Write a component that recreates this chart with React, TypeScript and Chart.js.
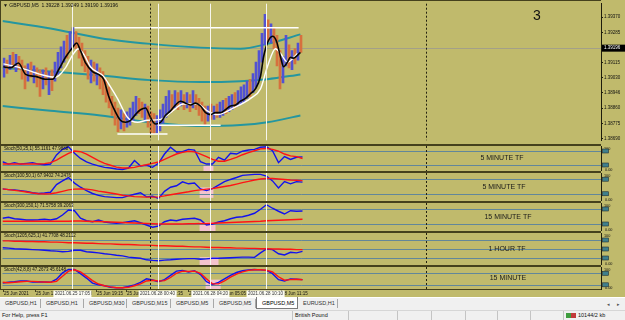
import React, { useEffect, useRef } from 'react';
import { Chart, registerables } from 'chart.js';

Chart.register(...registerables);

// ---------------- DATA ----------------
const symbolTitle = '\u25BC GBPUSD,M5  1.39228 1.39249 1.39190 1.39196';
const chartNumber = '3';
const currentPrice = 1.39196;
const priceTicks = [1.3937, 1.39285, 1.39115, 1.3903, 1.38946, 1.3886, 1.38775, 1.3869];

const candleHigh = [
  1.3914, 1.39129, 1.39156, 1.39172, 1.39161, 1.3915, 1.39129, 1.39097, 1.39108, 1.39118,
  1.39097, 1.39086, 1.39075, 1.39075, 1.39086, 1.39065, 1.39075, 1.39118, 1.39172, 1.39204,
  1.39236, 1.39268, 1.39289, 1.39311, 1.39289, 1.39257, 1.39225, 1.39182, 1.3915, 1.39129,
  1.39118, 1.39108, 1.39086, 1.39065, 1.39022, 1.38979, 1.38926, 1.38894, 1.38861, 1.38851,
  1.38829, 1.3884, 1.38861, 1.38894, 1.38926, 1.38915, 1.38894, 1.38883, 1.38872, 1.3884,
  1.38829, 1.38819, 1.38851, 1.38883, 1.38926, 1.38958, 1.38936, 1.38958, 1.38947, 1.38958,
  1.38936, 1.38947, 1.38936, 1.38958, 1.38936, 1.38915, 1.38894, 1.38872, 1.38872, 1.38883,
  1.38872, 1.38883, 1.38894, 1.38904, 1.38915, 1.38926, 1.38936, 1.38947, 1.38958, 1.38979,
  1.3899, 1.39011, 1.39022, 1.39054, 1.39118, 1.39182, 1.39279, 1.39386, 1.39354, 1.39332,
  1.39311, 1.39268, 1.39182, 1.3915, 1.39268, 1.39215, 1.39182, 1.39193, 1.39225, 1.39268,
];
const candleLow = [
  1.39033, 1.39054, 1.39075, 1.39086, 1.39065, 1.39075, 1.39022, 1.38968, 1.39011, 1.39033,
  1.39001, 1.38979, 1.38926, 1.38968, 1.3899, 1.38936, 1.38958, 1.39011, 1.39049, 1.39086,
  1.39118, 1.3914, 1.39182, 1.39204, 1.39193, 1.3914, 1.39097, 1.39065, 1.39022, 1.39001,
  1.39011, 1.3899, 1.38968, 1.38936, 1.38894, 1.38861, 1.38819, 1.38765, 1.38728, 1.38744,
  1.38733, 1.38754, 1.38765, 1.38787, 1.38819, 1.38829, 1.38808, 1.38787, 1.38754, 1.38722,
  1.38717, 1.38722, 1.38733, 1.38776, 1.38808, 1.38829, 1.3884, 1.38861, 1.38851, 1.38872,
  1.38851, 1.38861, 1.3884, 1.38861, 1.38851, 1.38819, 1.38787, 1.38765, 1.38787, 1.38797,
  1.38797, 1.38808, 1.38808, 1.38819, 1.38829, 1.3884, 1.38851, 1.38861, 1.38872, 1.38883,
  1.38894, 1.38915, 1.38926, 1.38947, 1.38979, 1.39022, 1.39118, 1.39215, 1.39236, 1.39225,
  1.39193, 1.39097, 1.38968, 1.39001, 1.39097, 1.39086, 1.39075, 1.39108, 1.39129, 1.39172,
];
const candleDir = (
  'UDUDUDDDUD' + 'UDDUDUDUUU' + 'UDUUDDDDDU' + 'DUDDDDDDDU' + 'DUUUUDDUDD' +
  'DUUUUUDUDU' + 'DUDUDDDDUD' + 'UDUUDUUDUU' + 'UUDUUUUUDU' + 'DDDUUDUDUD'
).split('');

const maFastX = [0.3, 2.7, 5.3, 7.7, 11, 14.3, 16.7, 18.7, 21, 23.3, 24.7, 26, 27.7, 30, 32, 33.7, 35.3, 37, 39.3, 41,
  42.7, 44.3, 46, 47.7, 49.3, 51, 52.7, 54.3, 56, 57.7, 59.3, 61, 62.7, 64.3, 66, 67.7, 69.3, 71, 72.7, 74.3,
  76, 77.7, 79.3, 81, 82.7, 84.3, 86, 87, 88.3, 90, 91.3, 92.7, 93.7, 95, 96, 97, 98.3, 99.3];
const maFastY = [1.39092, 1.39086, 1.39113, 1.39049, 1.39038, 1.39022, 1.39022, 1.39075, 1.39145, 1.39199,
  1.39225, 1.39182, 1.39113, 1.39065, 1.39049, 1.39022, 1.38931, 1.38861, 1.38792, 1.38781,
  1.38792, 1.38824, 1.38851, 1.38861, 1.38808, 1.38771, 1.38781, 1.38819, 1.38845, 1.38878,
  1.38899, 1.38888, 1.38878, 1.38888, 1.38872, 1.38835, 1.38824, 1.38835, 1.38835, 1.38851,
  1.38872, 1.38878, 1.38899, 1.38915, 1.38942, 1.38968, 1.39038, 1.39145, 1.39225, 1.39263,
  1.39236, 1.39145, 1.39092, 1.39118, 1.39145, 1.3914, 1.39156, 1.39172];

const maSlowX = [0.3, 6, 12.7, 17.7, 21, 23.3, 25.3, 27.3, 29.3, 33.7, 36, 38.3, 41.7, 45, 48.3, 52.7, 56, 60.3, 65, 68.3,
  71.7, 77, 82.7, 86, 88.3, 91, 92.7, 95, 98.3];
const maSlowY = [1.39108, 1.39086, 1.39049, 1.39033, 1.39086, 1.39156, 1.39193, 1.39156, 1.39092, 1.39038,
  1.38979, 1.38915, 1.38808, 1.38781, 1.38792, 1.38797, 1.38835, 1.38883, 1.38883, 1.38845,
  1.38824, 1.38861, 1.38915, 1.38968, 1.39092, 1.39193, 1.39166, 1.39118, 1.39166];

const bandX = [0, 16, 32.7, 49.3, 66, 79.3, 88.3, 99.3];
const bandUpper = [1.39348, 1.39306, 1.39252, 1.3922, 1.39199, 1.39193, 1.3922, 1.39273];
const bandMiddle = [1.39086, 1.39065, 1.39043, 1.39017, 1.39006, 1.39011, 1.39022, 1.39049];
const bandLower = [1.38872, 1.38845, 1.38819, 1.38781, 1.3876, 1.38765, 1.38781, 1.38819];

const trendStart = [24, 51.7, 38.3];
const trendEnd = [98.7, 72.7, 55];
const trendPrice = [1.39311, 1.38764, 1.38715];

const vLineWhite = [23.3, 51.7, 69.3, 87.7];
const vLineWhiteText = ['2021.06.25 17:05', '2021.06.28 00:40', '2021.06.28 04:20', '2021.06.28 10:10'];
const vLineDotted = [49, 141];

const timeLabelX = [0.33, 10.67, 20.67, 31, 41, 51.33, 61.67, 72, 82.33, 92.67];
const timeLabelText = ['25 Jun 2021', '25 Jun 13:25', '25 Jun 16:20', '25 Jun 19:15', '25 Jun 22:10',
  '28 Jun 01:35', '28 Jun 03:20', '28 Jun 05:05', '28 Jun 08:10', '28 Jun 11:15'];

const stochX = [0, 2, 4, 6, 8, 10, 12, 14, 16, 18, 20, 22, 24, 26, 28, 30, 32, 34, 36, 38, 40, 42, 44, 46, 48, 50,
  52, 54, 56, 58, 60, 62, 64, 66, 68, 70, 72, 74, 76, 78, 80, 82, 84, 86, 88, 90, 92, 94, 96, 98, 100];

const stoch1Main = [34, 24, 30, 24, 27, 30, 24, 21, 24, 63, 87, 98, 70, 48, 33, 24, 16, 10, 7, 3, 1, 7, 39, 16, 19, 10,
  27, 67, 96, 76, 77, 87, 84, 34, 24, 24, 53, 41, 70, 67, 79, 84, 87, 96, 98, 81, 30, 56, 44, 53, 55];
const stoch1Signal = [24, 24, 24, 24, 24, 24, 24, 26, 30, 41, 56, 70, 80, 77, 67, 53, 39, 27, 19, 11, 7, 7, 10, 16, 21, 27,
  33, 44, 56, 67, 74, 79, 76, 67, 56, 44, 36, 36, 44, 53, 64, 73, 81, 89, 91, 87, 79, 67, 59, 56, 48];
const stoch2Main = [40, 37, 36, 33, 29, 24, 21, 23, 26, 58, 73, 87, 64, 47, 33, 21, 13, 8, 6, 4, 4, 11, 18, 24, 7, 10,
  1, 30, 47, 53, 69, 61, 64, 40, 33, 41, 56, 70, 79, 87, 96, 98, 100, 100, 93, 73, 44, 70, 61, 70, 68];
const stoch2Signal = [40, 37, 34, 31, 27, 23, 20, 19, 20, 24, 30, 36, 39, 40, 39, 36, 31, 27, 23, 19, 14, 11, 8, 7, 6, 6,
  7, 11, 16, 20, 24, 28, 33, 36, 39, 41, 46, 50, 54, 60, 66, 71, 77, 81, 83, 83, 81, 79, 77, 76, 74];
const stoch3Main = [43, 47, 41, 39, 36, 36, 37, 39, 36, 41, 56, 76, 73, 43, 33, 29, 36, 28, 25, 23, 25, 29, 33, 25, 16, 7,
  12, 29, 36, 33, 39, 41, 43, 36, 16, 20, 28, 33, 41, 47, 49, 55, 63, 79, 97, 83, 71, 60, 73, 71, 72];
const stoch3Signal = [31, 31, 31, 31, 31, 31, 31, 31, 31, 31, 31, 31, 32, 32, 31, 30, 30, 29, 28, 27, 26, 25, 24, 23, 22, 21,
  20, 20, 20, 20, 20, 21, 21, 22, 22, 23, 24, 25, 26, 27, 28, 29, 30, 31, 33, 34, 35, 36, 37, 38, 39];
const stoch4Main = [54, 53, 51, 50, 49, 48, 47, 46, 44, 43, 41, 42, 46, 46, 41, 39, 37, 34, 32, 29, 27, 23, 21, 19, 14, 12,
  11, 13, 14, 16, 17, 18, 18, 16, 17, 19, 19, 20, 21, 22, 23, 23, 22, 37, 50, 48, 34, 30, 39, 37, 42];
const stoch4Signal = [77, 77, 76, 76, 75, 75, 74, 74, 73, 73, 72, 71, 71, 70, 69, 69, 68, 67, 67, 66, 65, 65, 64, 63, 63, 62,
  61, 61, 60, 59, 59, 58, 57, 57, 56, 55, 55, 54, 54, 53, 53, 52, 52, 51, 51, 50, 50, 49, 49, 48, 48];
const stoch5Main = [29, 33, 36, 40, 40, 35, 36, 35, 33, 49, 82, 100, 100, 78, 55, 29, 20, 15, 7, 5, 5, 11, 20, 33, 51, 45,
  36, 47, 69, 91, 95, 87, 93, 73, 36, 22, 33, 51, 69, 84, 93, 98, 100, 98, 95, 78, 47, 40, 51, 49, 47];
const stoch5Signal = [33, 31, 33, 36, 38, 38, 36, 35, 33, 38, 65, 91, 98, 87, 65, 42, 24, 15, 9, 5, 5, 7, 15, 25, 40, 44,
  40, 42, 58, 80, 91, 89, 91, 80, 51, 25, 25, 40, 60, 76, 87, 95, 98, 98, 96, 87, 62, 44, 47, 49, 46];

const stochTitles = [
  'Stoch(50,25,1) 55.1161 47.9888',
  'Stoch(100,50,1) 67.9402 74.2476',
  'Stoch(300,150,1) 71.5758 39.2063',
  'Stoch(1205,625,1) 41.7708 48.2112',
  'Stoch(42,8,8) 47.2673 45.6148',
];
const stochNames = ['5 MINUTE TF', '5 MINUTE TF', '15 MINUTE TF', '1 HOUR TF', '15 MINUTE'];
const stochLevels = [[80, 20], [80, 20], [80, 20], [80, 50, 20], [80, 20]];
const pinkStart = [67, 65.7, 65.7, 65.7, 67.7];
const pinkEnd = [70.3, 70.3, 71, 72, 72.7];
const pinkLow = [-6, 3, -8, -3.3, -2];
const pinkHigh = [16, 46, 28, 23, 47];

const tabNames = ['GBPUSD,H1', 'GBPUSD,H1', 'GBPUSD,M30', 'GBPUSD,M15', 'GBPUSD,M5', 'GBPUSD,M5', 'GBPUSD,M5', 'EURUSD,H1'];
const activeTab = 6;
const statusHelp = 'For Help, press F1';
const statusSymbol = 'British Pound';
const statusTraffic = '10144/2 kb';

// ---------------- STYLE / LAYOUT ----------------
const FONT = '"Liberation Sans", "DejaVu Sans", Arial, sans-serif';
const OLIVE = '#c0ba6c';
const DARK = '#45411d';
const LEVEL = '#62879a';
const X_MAX = 199.5;
const AXIS_W = 24;

const stochMainSeries = [stoch1Main, stoch2Main, stoch3Main, stoch4Main, stoch5Main];
const stochSignalSeries = [stoch1Signal, stoch2Signal, stoch3Signal, stoch4Signal, stoch5Signal];

const PANELS = [
  { top: 144, height: 27, padBottom: 0, min: -5.7, max: 101.4, labelX: 502 },
  { top: 171, height: 30, padBottom: 0, min: -10, max: 105.7, labelX: 504 },
  { top: 201, height: 30, padBottom: 0, min: -8, max: 104, labelX: 508 },
  { top: 231, height: 34, padBottom: 0, min: -3.3, max: 103.3, labelX: 507 },
  { top: 265, height: 32, padBottom: 8, min: -1.8, max: 112.7, labelX: 508 },
];

const TAB_LEFT = [0, 41, 84, 127, 171, 214, 256, 298];
const TAB_W = [41, 43, 43, 44, 43, 42, 42, 40];
const STATUS_SEPS = [292, 348, 397, 431, 465, 497, 530, 563];

function drawVerticalLines(chart: any) {
  const { ctx, chartArea: a, scales } = chart;
  const xs = scales.x;
  ctx.save();
  ctx.lineWidth = 1;
  ctx.strokeStyle = '#f6f6ee';
  for (const v of vLineWhite) {
    const px = Math.round(xs.getPixelForValue(v)) + 0.5;
    ctx.beginPath(); ctx.moveTo(px, a.top); ctx.lineTo(px, a.bottom); ctx.stroke();
  }
  ctx.strokeStyle = '#23210f';
  ctx.setLineDash([2, 2]);
  for (const v of vLineDotted) {
    const px = Math.round(xs.getPixelForValue(v)) + 0.5;
    ctx.beginPath(); ctx.moveTo(px, a.top); ctx.lineTo(px, a.bottom); ctx.stroke();
  }
  ctx.restore();
}

function xScale() {
  return { type: 'linear', min: 0, max: X_MAX, display: false, offset: false };
}

function rightAxis(min: number, max: number, withTicks: boolean) {
  return {
    position: 'right',
    min,
    max,
    afterFit: (s: any) => { s.width = AXIS_W; },
    border: { display: true, color: '#1e1c0c', width: 1 },
    grid: { display: true, drawOnChartArea: false, drawTicks: withTicks, tickLength: 2, color: '#1e1c0c' },
    ticks: withTicks
      ? { display: true, autoSkip: false, padding: 1, color: '#111', font: { size: 4.5, family: FONT }, callback: (v: any) => Number(v).toFixed(5) }
      : { display: false },
    afterBuildTicks: withTicks ? (s: any) => { s.ticks = priceTicks.map((v) => ({ value: v })); } : undefined,
  };
}

const mainDeco = {
  id: 'mainDeco',
  beforeDatasetsDraw(chart: any) {
    const { ctx, chartArea: a, scales } = chart;
    const py = Math.round(scales.y.getPixelForValue(currentPrice)) + 0.5;
    ctx.save();
    ctx.strokeStyle = '#a3a088';
    ctx.lineWidth = 1;
    ctx.beginPath(); ctx.moveTo(a.left, py); ctx.lineTo(a.right, py); ctx.stroke();
    ctx.restore();
  },
  afterDatasetsDraw(chart: any) { drawVerticalLines(chart); },
  afterDraw(chart: any) {
    const { ctx, chartArea: a, scales } = chart;
    ctx.save();
    ctx.fillStyle = DARK;
    ctx.fillRect(0, 0, a.right, 1);
    ctx.fillRect(0, 0, 1, chart.height);
    ctx.fillStyle = '#111';
    ctx.font = `5px ${FONT}`;
    ctx.textBaseline = 'middle';
    ctx.textAlign = 'left';
    ctx.fillText(symbolTitle, 3, 5.5);
    ctx.font = `14px ${FONT}`;
    ctx.textAlign = 'center';
    ctx.fillText(chartNumber, 537, 16);
    const py = scales.y.getPixelForValue(currentPrice);
    ctx.fillStyle = '#000';
    ctx.fillRect(a.right + 1, py - 3.5, AXIS_W - 1, 7);
    ctx.fillStyle = '#fff';
    ctx.font = `4.5px ${FONT}`;
    ctx.textAlign = 'left';
    ctx.fillText(currentPrice.toFixed(5), a.right + 3, py);
    ctx.restore();
  },
};

function mainConfig() {
  const line = (xs: number[], ys: number[], color: string, width: number, order: number, tension: number) => ({
    type: 'line',
    data: xs.map((x, i) => ({ x, y: ys[i] })),
    borderColor: color,
    borderWidth: width,
    pointRadius: 0,
    tension,
    cubicInterpolationMode: tension > 0 ? 'monotone' : 'default',
    fill: false,
    order,
  });
  const trends = trendPrice.map((p, i) => ({
    type: 'line',
    data: [{ x: trendStart[i], y: p }, { x: trendEnd[i], y: p }],
    borderColor: '#ffffff',
    borderWidth: 1.5,
    pointRadius: 0,
    order: 0,
  }));
  return {
    type: 'bar',
    data: {
      datasets: [
        ...trends,
        line(maFastX, maFastY, '#050505', 1.6, 1, 0.3),
        line(maSlowX, maSlowY, '#ffffff', 1.4, 2, 0.3),
        {
          type: 'bar',
          data: candleHigh.map((h, i) => ({ x: i + 0.5, y: [candleLow[i], h] })),
          backgroundColor: candleDir.map((d) => (d === 'U' ? '#5252d2' : '#d6703e')),
          borderWidth: 0,
          barThickness: 2,
          grouped: false,
          order: 3,
        },
        line(bandX, bandUpper, '#2496a0', 2, 4, 0.4),
        line(bandX, bandMiddle, '#2496a0', 2, 4, 0.4),
        line(bandX, bandLower, '#2496a0', 2, 4, 0.4),
      ],
    },
    options: {
      responsive: false,
      animation: false,
      devicePixelRatio: 1,
      events: [],
      layout: { padding: { left: 2.5, top: 1, bottom: 0, right: 0 } },
      plugins: { legend: { display: false }, tooltip: { enabled: false } },
      scales: {
        x: xScale(),
        y: rightAxis(1.3868, 1.39445, true),
      },
    },
    plugins: [mainDeco],
  };
}

function stochDeco(idx: number) {
  const isLast = idx === PANELS.length - 1;
  return {
    id: 'stochDeco',
    beforeDatasetsDraw(chart: any) {
      const { ctx, chartArea: a, scales } = chart;
      const x = scales.x, y = scales.y;
      ctx.save();
      const x0 = x.getPixelForValue(pinkStart[idx]);
      const x1 = x.getPixelForValue(pinkEnd[idx]);
      const y0 = Math.max(a.top, y.getPixelForValue(pinkHigh[idx]));
      const y1 = Math.min(a.bottom, y.getPixelForValue(pinkLow[idx]));
      ctx.fillStyle = '#f3c3cd';
      ctx.fillRect(x0, y0, x1 - x0, y1 - y0);
      ctx.strokeStyle = LEVEL;
      ctx.lineWidth = 1;
      for (const lv of stochLevels[idx]) {
        const py = Math.round(y.getPixelForValue(lv)) + 0.5;
        ctx.beginPath(); ctx.moveTo(a.left, py); ctx.lineTo(a.right, py); ctx.stroke();
      }
      ctx.restore();
    },
    afterDatasetsDraw(chart: any) { drawVerticalLines(chart); },
    afterDraw(chart: any) {
      const { ctx, chartArea: a, scales } = chart;
      const x = scales.x, y = scales.y;
      ctx.save();
      ctx.fillStyle = DARK;
      ctx.fillRect(0, 0, a.right, 2);
      ctx.fillRect(0, 0, 1, a.bottom);
      // title
      ctx.fillStyle = '#111';
      ctx.font = `4.5px ${FONT}`;
      ctx.textBaseline = 'middle';
      ctx.textAlign = 'left';
      ctx.fillText(stochTitles[idx], 4, a.top + 3);
      // name label
      ctx.font = `7px ${FONT}`;
      ctx.textAlign = 'center';
      ctx.fillStyle = '#1a1a1a';
      ctx.fillText(stochNames[idx], PANELS[idx].labelX, (a.top + a.bottom) / 2);
      // right axis marks
      ctx.font = `3.8px ${FONT}`;
      ctx.textAlign = 'left';
      ctx.fillStyle = '#111';
      ctx.fillText('100', a.right + 3, a.top + 2.5);
      ctx.fillText('0.00', a.right + 4, a.bottom - 1.5);
      for (const lv of stochLevels[idx]) {
        const py = y.getPixelForValue(lv);
        ctx.fillStyle = '#3f7f8c';
        ctx.fillRect(a.right + 1.5, py - 2, 6, 4);
        ctx.strokeStyle = '#203038';
        ctx.lineWidth = 0.6;
        ctx.strokeRect(a.right + 1.5, py - 2, 6, 4);
      }
      if (isLast) {
        ctx.fillStyle = DARK;
        ctx.fillRect(0, a.bottom, a.right, 1);
        ctx.font = `4.5px ${FONT}`;
        const ty = a.bottom + 4.5;
        timeLabelX.forEach((u, i) => {
          const px = Math.round(x.getPixelForValue(u));
          ctx.fillStyle = DARK;
          ctx.fillRect(px, a.bottom + 1, 1, 2);
          ctx.fillStyle = '#111';
          ctx.textAlign = 'left';
          ctx.fillText(timeLabelText[i], px + 1, ty);
        });
        vLineWhite.forEach((u, i) => {
          const px = x.getPixelForValue(u);
          const w = ctx.measureText(vLineWhiteText[i]).width + 3;
          ctx.fillStyle = '#fbfbf4';
          ctx.fillRect(px - w / 2, a.bottom + 1.5, w, 6.5);
          ctx.fillStyle = '#333';
          ctx.textAlign = 'center';
          ctx.fillText(vLineWhiteText[i], px, ty);
        });
      }
      ctx.restore();
    },
  };
}

function stochConfig(idx: number) {
  const p = PANELS[idx];
  const mk = (vals: number[], color: string, order: number) => ({
    data: stochX.map((x, i) => ({ x, y: vals[i] })),
    borderColor: color,
    borderWidth: 1.4,
    pointRadius: 0,
    tension: 0,
    fill: false,
    order,
  });
  return {
    type: 'line',
    data: {
      datasets: [
        mk(stochSignalSeries[idx], '#ff1414', 0),
        mk(stochMainSeries[idx], '#1212ee', 1),
      ],
    },
    options: {
      responsive: false,
      animation: false,
      devicePixelRatio: 1,
      events: [],
      layout: { padding: { left: 2.5, top: 2, bottom: p.padBottom, right: 0 } },
      plugins: { legend: { display: false }, tooltip: { enabled: false } },
      scales: {
        x: xScale(),
        y: rightAxis(p.min, p.max, false),
      },
    },
    plugins: [stochDeco(idx)],
  };
}

function ChartCanvas({ top, height, make }: { top: number; height: number; make: () => any }) {
  const ref = useRef<HTMLCanvasElement>(null);
  useEffect(() => {
    const chart = new Chart(ref.current as HTMLCanvasElement, make() as any);
    return () => chart.destroy();
  }, []);
  return (
    <canvas
      ref={ref}
      width={625}
      height={height}
      style={{ position: 'absolute', left: 0, top, width: 625, height }}
    />
  );
}

function TabBar() {
  return (
    <div style={{ position: 'absolute', left: 0, top: 297, width: 625, height: 13, background: '#f0f0f0', borderTop: '1px solid #ffffff', boxSizing: 'border-box' }}>
      {tabNames.map((t, i) => {
        const active = i === activeTab;
        return (
          <div
            key={i}
            style={{
              position: 'absolute',
              left: TAB_LEFT[i],
              top: active ? -1 : 1,
              width: TAB_W[i],
              height: active ? 12 : 9,
              boxSizing: 'border-box',
              background: active ? '#ffffff' : 'transparent',
              borderLeft: active ? '1px solid #7a7a7a' : 'none',
              borderRight: active ? '1px solid #7a7a7a' : '1px solid #a8a8a8',
              borderBottom: active ? '1px solid #7a7a7a' : 'none',
              fontSize: 5.5,
              lineHeight: active ? '12px' : '9px',
              paddingLeft: 5,
              color: active ? '#000' : '#333',
              whiteSpace: 'nowrap',
              overflow: 'hidden',
            }}
          >
            {t}
          </div>
        );
      })}
      <span style={{ position: 'absolute', left: 607, top: 1, fontSize: 5, color: '#555', lineHeight: '10px' }}>{'\u25C2'}</span>
      <span style={{ position: 'absolute', left: 617, top: 1, fontSize: 5, color: '#555', lineHeight: '10px' }}>{'\u25B8'}</span>
    </div>
  );
}

function StatusBar() {
  return (
    <div style={{ position: 'absolute', left: 0, top: 310, width: 625, height: 10, background: '#f0f0f0', borderTop: '1px solid #d6d6d6', boxSizing: 'border-box' }}>
      <span style={{ position: 'absolute', left: 2, top: 0, fontSize: 5.5, lineHeight: '9px', color: '#111', whiteSpace: 'nowrap' }}>{statusHelp}</span>
      {STATUS_SEPS.map((x, i) => (
        <div key={i} style={{ position: 'absolute', left: x, top: 0, width: 1, height: 9, background: '#c4c4c4' }} />
      ))}
      <span style={{ position: 'absolute', left: 295, top: 0, fontSize: 5.5, lineHeight: '9px', color: '#111', whiteSpace: 'nowrap' }}>{statusSymbol}</span>
      <div style={{ position: 'absolute', left: 566, top: 2, width: 10, height: 5, background: 'linear-gradient(90deg, #3f9d3f 0 50%, #c23a3a 50% 100%)' }} />
      <span style={{ position: 'absolute', left: 578, top: 0, fontSize: 5.5, lineHeight: '9px', color: '#111', whiteSpace: 'nowrap' }}>{statusTraffic}</span>
    </div>
  );
}

export default function App() {
  return (
    <div style={{ position: 'fixed', left: 0, top: 0, width: 625, height: 320, overflow: 'hidden', background: '#f0f0f0', fontFamily: FONT }}>
      <div style={{ position: 'absolute', left: 0, top: 0, width: 625, height: 297, background: OLIVE }} />
      <ChartCanvas top={0} height={144} make={mainConfig} />
      {PANELS.map((p, i) => (
        <ChartCanvas key={i} top={p.top} height={p.height} make={() => stochConfig(i)} />
      ))}
      <TabBar />
      <StatusBar />
    </div>
  );
}
